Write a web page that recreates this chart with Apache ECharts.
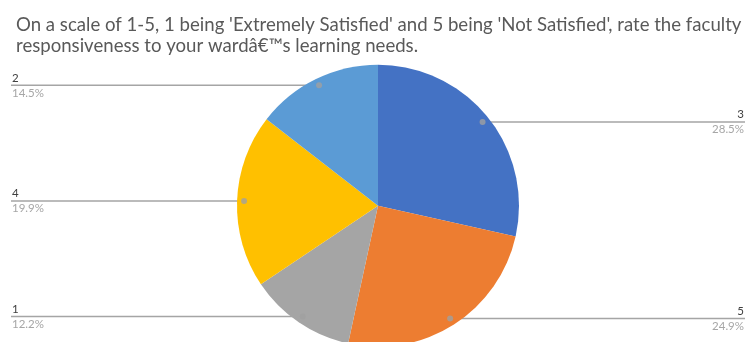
<!DOCTYPE html>
<html><head><meta charset="utf-8">
<script src="https://cdn.jsdelivr.net/npm/echarts@6/dist/echarts.min.js"></script>
<style>html,body{margin:0;padding:0;background:#fff}#c{width:746px;height:342px}</style>
</head><body><div id="c"></div>
<script>
const titleText = "On a scale of 1-5, 1 being 'Extremely Satisfied' and 5 being 'Not Satisfied', rate the faculty\nresponsiveness to your wardâ€™s learning needs.";
const categories = ['3', '5', '1', '4', '2'];
const values = [28.5, 24.9, 12.2, 19.9, 14.5];
const colors = ['#4472C4', '#ED7D31', '#A5A5A5', '#FFC000', '#5B9BD5'];

const chart = echarts.init(document.getElementById('c'), null, {renderer: 'canvas'});
const CX = 378, CY = 205.7, R = 141, RL = 134;
const total = values.reduce((a, b) => a + b, 0);
let cum = 0;
const dots = values.map(v => { const m = cum + v / 2; cum += v; return [RL, m]; });
const pieData = categories.map((c, i) => ({name: c, value: values[i], itemStyle: {color: colors[i]}}));
const FONT = 'Lato';

chart.setOption({
  animation: false,
  title: {
    text: titleText, left: 11, top: 9,
    textStyle: {fontFamily: FONT, fontSize: 18.6, fontWeight: 'normal', color: '#595959', lineHeight: 21}
  },
  polar: {center: [CX, CY], radius: R},
  angleAxis: {type: 'value', min: 0, max: total, startAngle: 90, clockwise: true, show: false},
  radiusAxis: {type: 'value', min: 0, max: R, show: false},
  series: [
    {
      type: 'pie', center: [CX, CY], radius: R, startAngle: 90, clockwise: true, silent: true,
      label: {show: false}, labelLine: {show: false},
      itemStyle: {borderWidth: 0},
      data: pieData
    },
    {
      type: 'pie', center: [CX, CY], radius: RL, startAngle: 90, clockwise: true, silent: true,
      avoidLabelOverlap: false,
      itemStyle: {color: 'rgba(0,0,0,0)', borderWidth: 0},
      label: {
        show: true, position: 'outside',
        formatter: '{n|{b}}\n{p|{c}%}',
        rich: {
          n: {fontFamily: FONT, fontSize: 11.5, color: '#404040', lineHeight: 15},
          p: {fontFamily: FONT, fontSize: 11.5, color: '#a6a6a6', lineHeight: 15}
        }
      },
      labelLine: {show: true, length: 5, length2: 5, lineStyle: {color: '#a5a5a5', width: 1.5}},
      labelLayout: function (p) {
        const pts = p.labelLinePoints;
        if (!pts) return {};
        const s = pts[0];
        const right = s[0] >= CX;
        const ex = right ? 745 : 11;
        return {
          x: right ? 744 : 12, y: s[1], align: right ? 'right' : 'left', verticalAlign: 'middle',
          labelLinePoints: [[s[0], s[1]], [ex, s[1]], [ex, s[1]]]
        };
      },
      data: categories.map((c, i) => ({name: c, value: values[i]}))
    },
    {
      type: 'scatter', coordinateSystem: 'polar', silent: true, z: 5,
      symbolSize: 6, itemStyle: {color: '#a0a0a0'},
      data: dots
    }
  ]
});
</script>
</body></html>
